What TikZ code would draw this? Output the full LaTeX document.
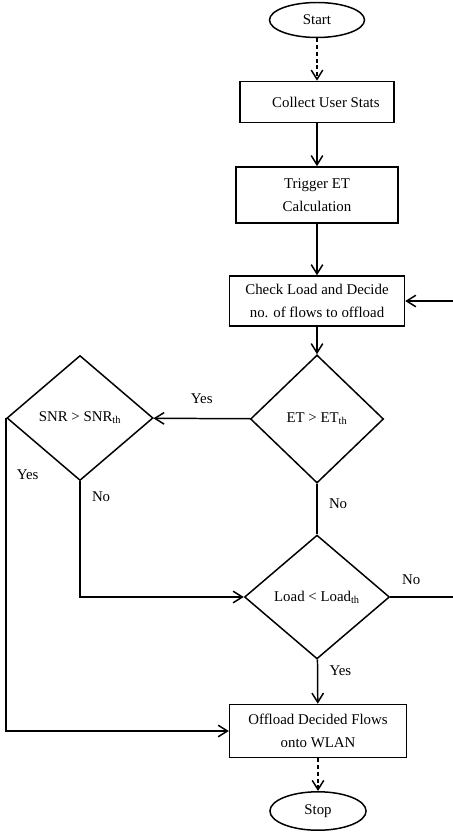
\documentclass[tikz,border=0pt]{standalone}
\usepackage{fontspec}
\setmainfont{Liberation Serif}
\usetikzlibrary{shapes,arrows,arrows.meta}

\begin{document}
\begin{tikzpicture}[x=0.026cm,y=-0.026cm,font=\fontsize{11}{17}\selectfont]
	\useasboundingbox (0,0) rectangle (453,833);
		\begin{scope}
            [
                every node/.style={align=center, line width=1.1pt, inner sep=0pt},
				terminal/.style = {draw, ellipse},
				process/.style = {draw, rectangle},
				decision/.style = {draw, diamond}
            ]
            
			\node(start)[terminal, minimum width=2.47cm, minimum height=0.91cm] at (317,20) {Start};
			\node(collect)[process, minimum width=4.0cm, minimum height=1.07cm] at (317,102) {\hspace*{1.2em}Collect User Stats};
			\node(trigger)[process, minimum width=4.21cm, minimum height=1.46cm] at (317,195) {Trigger ET\\Calculation};
			\node(check)[process, minimum width=4.55cm, minimum height=1.3cm] at (317,301) {Check Load and Decide\\no. of flows to offload};
			
			\node(et)[decision, minimum width=3.46cm, minimum height=3.33cm] at (317,419) {ET > ET\textsubscript{th}};
			\node(snr)[decision, minimum width=3.8cm, minimum height=3.25cm] at (80,418) {SNR > SNR\textsubscript{th}};
			\node(load)[decision, minimum width=3.77cm, minimum height=3.22cm] at (317,597) {Load < Load\textsubscript{th}};
			
			\node(offload)[process, minimum width=4.6cm, minimum height=1.38cm] at (318,731) {Offload Decided Flows\\onto WLAN};
			\node(stop)[terminal, minimum width=2.5cm, minimum height=1.0cm] at (318,811) {Stop};

		\end{scope}
		\begin{scope}
            [>={Straight Barb[length=2.4mm,width=3mm]},
                line width=1.1pt,
                every edge/.style={draw=black},
            ]
            \path 
            (start) edge[->, dash pattern=on 3pt off 2pt] (collect)
			(collect) edge[->] (trigger)
			(trigger) edge[->] (check)
			(check) edge[->] (et)
			(et) edge[->] node[above=7pt]{Yes} (snr)
			(et) edge node[pos=0.4, right=5pt]{No} (load)
			(load) edge[->] node[pos=0.25, right=5pt]{Yes} (offload)
			(offload) edge[->, dash pattern=on 3pt off 2pt] (stop);
			\draw[->] (snr.west) |- node[pos=0.09, right=4pt]{Yes} (offload.west);
			\draw[->] (snr.south) |- node[pos=0.065, right=5pt]{No} (load.west);
			\draw[->] (load.east) -- node[pos=0.3, above=5pt]{No} ++(70,0) |- (check.east);
		\end{scope}
    \end{tikzpicture}
\end{document}
